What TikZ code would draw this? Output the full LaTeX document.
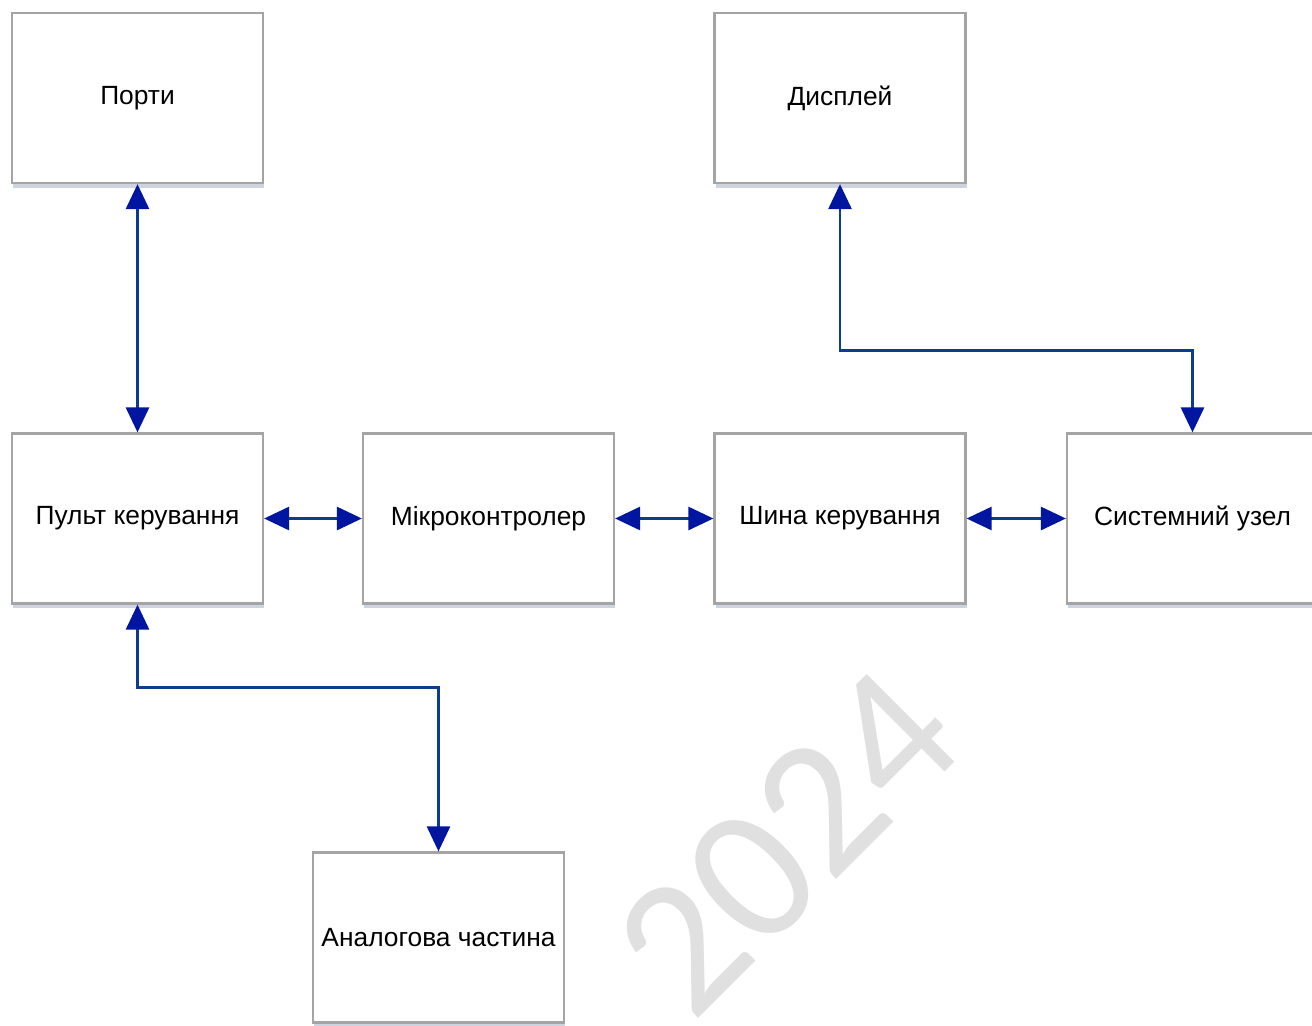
\documentclass[tikz,border=0pt]{standalone}
\usepackage{fontspec}
\setmainfont{Liberation Sans}
\newfontfamily\wmfont{Carlito}
\usetikzlibrary{arrows.meta,shadows}
\definecolor{boxgray}{HTML}{A4A4A4}
\definecolor{shadowblue}{HTML}{CDD4DF}
\definecolor{linkblue}{HTML}{0B3C8E}
\definecolor{tipblue}{HTML}{0016A0}
\definecolor{wmgray}{HTML}{E0E0E0}
\begin{document}
\begin{tikzpicture}[x=0.02cm,y=-0.02cm,
    blk/.style={draw=boxgray,line width=1.3pt,fill=white,minimum width=5.02cm,minimum height=3.4cm,
      font=\fontsize{15}{18}\selectfont,
      drop shadow={shadow xshift=0.6pt,shadow yshift=-2.6pt,fill=shadowblue,opacity=1}},
    link/.style={line width=1.6pt,draw=linkblue,
      {Triangle[length=0.5cm,width=0.46cm,fill=tipblue,color=tipblue]}-{Triangle[length=0.5cm,width=0.46cm,fill=tipblue,color=tipblue]}}]
      \useasboundingbox (0,0) rectangle (1312,1025);
      % watermark
      \node[text=wmgray,rotate=45,inner sep=0pt,font=\wmfont\fontsize{110}{110}\selectfont] (wmark) at (787,842) {2024};
      % blocks
      \node[blk] (porty) at (137.5,98) {Порти};
      \node[blk] (dysplei) at (840,98) {Дисплей};
      \node[blk] (pult) at (137.5,518.5) {Пульт керування};
      \node[blk] (mikro) at (488.5,518.5) {Мікроконтролер};
      \node[blk] (shyna) at (840,518.5) {Шина керування};
      \node[blk] (system) at (1192.5,518.5) {Системний узел};
      \node[blk] (analog) at (438.5,937.5) {Аналогова частина};
      % links
      \draw[link] (pult) -- (porty);
      \draw[link] (pult) -- (mikro);
      \draw[link] (mikro) -- (shyna);
      \draw[link] (shyna) -- (system);
      \draw[link] (dysplei.south) -- ++(0,166) -| (system.north);
      \draw[link] (pult.south) -- ++(0,82.5) -| (analog.north);
\end{tikzpicture}
\end{document}
